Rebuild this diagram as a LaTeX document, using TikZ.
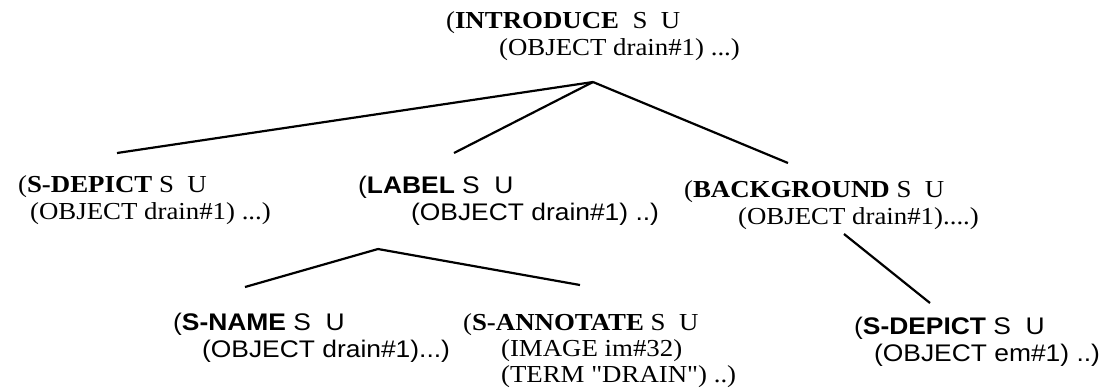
\documentclass[tikz,border=0pt]{standalone}
\usepackage{fontspec}
\setmainfont{Liberation Serif}[FakeStretch=1.1]
\setsansfont{Liberation Sans}[FakeStretch=1.1]
\newfontfamily\qtfont{Liberation Serif}[FakeStretch=1.1]
\begin{document}
\begin{tikzpicture}[x=0.5pt,y=-0.5pt,line width=1.1pt,
  txt/.style={anchor=base west,inner sep=0pt,align=left,
    font={\fontsize{12.2}{#1}\selectfont\lineskiplimit-20pt}},
  txt/.default=13.5,
  txtsf/.style={anchor=base west,inner sep=0pt,align=left,
    font={\fontsize{12}{13.5}\selectfont\sffamily\lineskiplimit-20pt}}]
\useasboundingbox (0,0) rectangle (1120,388);
% top goal (nodes sit on the baseline of their last line)
\node[txt] (intro) at (445,55) {(\textbf{INTRODUCE}\ \ S\ \ U\\
  \hspace*{26.5pt}(OBJECT drain\#1) ...)};
% second row
\node[txt] (sdep) at (17,219) {(\textbf{S-DEPICT} S\ \ U\\
  \hspace*{6pt}(OBJECT drain\#1) ...)};
\node[txtsf] (label) at (357,220) {(\textbf{LABEL} S\ \ U\\
  \hspace*{26.5pt}(OBJECT drain\#1) ..)};
\node[txt] (backg) at (683,224) {(\textbf{BACKGROUND} S\ \ U\\
  \hspace*{27pt}(OBJECT drain\#1)....)};
% third row
\node[txtsf] (sname) at (172,357) {(\textbf{S-NAME} S\ \ U\\
  \hspace*{14.5pt}(OBJECT drain\#1)...)};
\node[txt=12.8] (sannot) at (462,382) {(\textbf{S-ANNOTATE} S\ \ U\\
  \hspace*{19pt}(IMAGE im\#32)\\
  \hspace*{19pt}(TERM {\qtfont"}DRAIN{\qtfont"}) ..)};
\node[txtsf] (sdepb) at (853,361) {(\textbf{S-DEPICT} S\ \ U\\
  \hspace*{10pt}(OBJECT em\#1) ..)};
% tree lines
\draw ([shift={(148,27)}]intro.base west) -- ([shift={(100,-66)}]sdep.base west);
\draw ([shift={(148,27)}]intro.base west) -- ([shift={(97,-67)}]label.base west);
\draw ([shift={(148,27)}]intro.base west) -- ([shift={(105,-61)}]backg.base west);
\draw ([shift={(21,29)}]label.base west) -- ([shift={(73,-70)}]sname.base west);
\draw ([shift={(21,29)}]label.base west) -- ([shift={(118,-97)}]sannot.base west);
\draw ([shift={(161,10)}]backg.base west) -- ([shift={(77,-58)}]sdepb.base west);
\end{tikzpicture}
\end{document}
